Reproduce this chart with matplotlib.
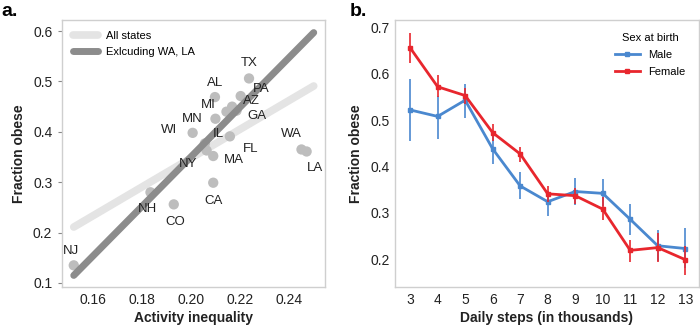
import matplotlib.pyplot as plt

# panel a: state-level data
states = ['NJ', 'NH', 'CO', 'CA', 'MA', 'NY', 'IL', 'WI', 'FL', 'MN',
          'MI', 'AZ', 'GA', 'AL', 'PA', 'TX', 'WA', 'LA']
inequality = [0.1521, 0.1834, 0.1929, 0.2090, 0.2090, 0.2063, 0.2056, 0.2006, 0.2158, 0.2099,
              0.2144, 0.2167, 0.2185, 0.2097, 0.2202, 0.2236, 0.2450, 0.2471]
obese = [0.135, 0.280, 0.256, 0.299, 0.352, 0.363, 0.377, 0.398, 0.391, 0.426,
         0.440, 0.450, 0.442, 0.469, 0.471, 0.506, 0.365, 0.361]
label_offsets = {'NJ': (-2, 10), 'NH': (-2, -12), 'CO': (1, -13), 'CA': (0, -13),
                 'MA': (15, -3), 'NY': (-13, -10), 'IL': (10, 7), 'WI': (-17, 2),
                 'FL': (15, -9), 'MN': (-17, 0), 'MI': (-13, 5), 'AZ': (14, 4),
                 'GA': (15, -4), 'AL': (0, 10), 'PA': (15, 5), 'TX': (0, 11),
                 'WA': (-7, 11), 'LA': (6, -12)}

# regression lines (endpoints)
fit_x = [0.1521, 0.2500]
fit_all = [0.211, 0.491]
fit_excl = [0.115, 0.597]

# panel b: fraction obese by daily steps
steps = [3, 4, 5, 6, 7, 8, 9, 10, 11, 12, 13]
male = [0.522, 0.508, 0.543, 0.438, 0.358, 0.324, 0.346, 0.342, 0.286, 0.229, 0.223]
male_lo = [0.455, 0.459, 0.505, 0.405, 0.329, 0.294, 0.317, 0.314, 0.253, 0.197, 0.180]
male_hi = [0.589, 0.552, 0.577, 0.468, 0.388, 0.348, 0.375, 0.373, 0.319, 0.263, 0.267]
female = [0.656, 0.572, 0.553, 0.473, 0.427, 0.341, 0.337, 0.308, 0.219, 0.225, 0.199]
female_lo = [0.624, 0.550, 0.534, 0.455, 0.410, 0.324, 0.319, 0.285, 0.195, 0.194, 0.165]
female_hi = [0.689, 0.597, 0.569, 0.491, 0.443, 0.357, 0.353, 0.335, 0.242, 0.256, 0.229]

plt.rcParams['font.family'] = ['Liberation Sans', 'DejaVu Sans']
spine_col = '#cfcfcf'
txt_col = '#222222'

fig = plt.figure(figsize=(7, 3.26), dpi=100)
ax1 = fig.add_axes([62 / 700, 1 - 287 / 326, 263 / 700, 267 / 326])
ax2 = fig.add_axes([395 / 700, 1 - 287 / 326, 304 / 700, 267 / 326])

for ax in (ax1, ax2):
    for s in ax.spines.values():
        s.set_color(spine_col)
        s.set_linewidth(1.0)
    ax.tick_params(labelsize=10, colors=txt_col, length=0, pad=4)

# ---- panel a
ax1.plot(fit_x, fit_all, color='#e4e4e4', lw=5.5, solid_capstyle='round', label='All states', zorder=1)
ax1.scatter(inequality, obese, s=55, color='#bdbdbd', edgecolors='none', zorder=2)
ax1.plot(fit_x, fit_excl, color='#8c8c8c', lw=5, solid_capstyle='round',
         label='Exlcuding WA, LA', zorder=3)
for st, xv, yv in zip(states, inequality, obese):
    ax1.annotate(st, (xv, yv), xytext=label_offsets[st], textcoords='offset points',
                 ha='center', va='center', fontsize=9.5, color=txt_col, zorder=4)
ax1.set_xlim(0.1473, 0.2546)
ax1.set_ylim(0.092, 0.622)
ax1.set_xticks([0.16, 0.18, 0.20, 0.22, 0.24])
ax1.set_xticklabels(['0.16', '0.18', '0.20', '0.22', '0.24'])
ax1.set_yticks([0.1, 0.2, 0.3, 0.4, 0.5, 0.6])
ax1.tick_params(axis='y', length=3, color='#888888')
ax1.set_xlabel('Activity inequality', fontsize=10, fontweight='bold', color=txt_col, labelpad=3)
ax1.set_ylabel('Fraction obese', fontsize=10, fontweight='bold', color=txt_col, labelpad=5)
ax1.legend(loc='upper left', frameon=False, fontsize=8, handlelength=2.2, borderaxespad=0.6)
fig.text(0.002, 0.99, 'a.', fontsize=14, fontweight='bold', va='top')

# ---- panel b
blue = '#4a88cf'
red = '#e8262d'
ax2.errorbar(steps, male, yerr=[[m - l for m, l in zip(male, male_lo)],
                                [h - m for m, h in zip(male, male_hi)]],
             fmt='none', ecolor=blue, elinewidth=1.2, capsize=0)
ax2.plot(steps, male, color=blue, lw=2, marker='s', ms=3, label='Male')
ax2.errorbar(steps, female, yerr=[[m - l for m, l in zip(female, female_lo)],
                                  [h - m for m, h in zip(female, female_hi)]],
             fmt='none', ecolor=red, elinewidth=1.2, capsize=0)
ax2.plot(steps, female, color=red, lw=2, marker='s', ms=3, label='Female')
ax2.set_xlim(2.45, 13.5)
ax2.set_ylim(0.14, 0.716)
ax2.set_xticks(steps)
ax2.set_yticks([0.2, 0.3, 0.4, 0.5, 0.6, 0.7])
ax2.set_xlabel('Daily steps (in thousands)', fontsize=10, fontweight='bold', color=txt_col, labelpad=3)
ax2.set_ylabel('Fraction obese', fontsize=10, fontweight='bold', color=txt_col, labelpad=5)
ax2.legend(loc='upper right', frameon=False, fontsize=8, title='Sex at birth',
           title_fontsize=8, handlelength=2.2, borderaxespad=0.8, labelspacing=0.6)
fig.text(0.5, 0.99, 'b.', fontsize=14, fontweight='bold', va='top')

fig.savefig('out.png', dpi=100)
